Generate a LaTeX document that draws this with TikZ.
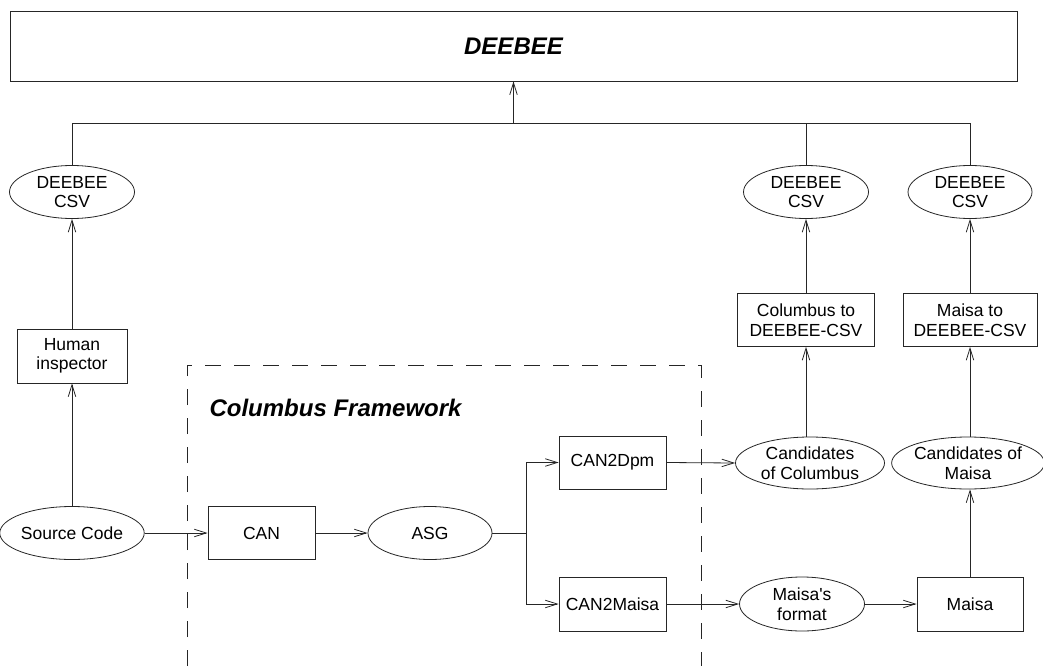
\documentclass[tikz,border=0pt]{standalone}
\usepackage{fontspec}
\setmainfont{Liberation Sans}
\usetikzlibrary{shapes.geometric,arrows.meta}
\begin{document}
\begin{tikzpicture}[x=1pt,y=-1pt,
  base/.style={draw=black!85, line width=0.8pt, inner sep=0pt, align=center,
     font=\fontsize{17.5}{19.5}\selectfont},
  boxnode/.style={base, rectangle},
  ellnode/.style={base, ellipse},
  conn/.style={draw=black!85, line width=0.8pt},
  arr/.style={conn, -{Straight Barb[length=12pt,width=7.5pt,line width=0.8pt]}},
  titletext/.style={font=\fontsize{24}{28}\selectfont\bfseries\itshape}
]
\useasboundingbox (0,0) rectangle (1043,666);
\fill[white] (0,0) rectangle (1043,666);

% nodes
\node[boxnode, minimum width=1007pt, minimum height=70pt, titletext] (deebee) at (513.5,46) {DEEBEE};
\node[ellnode, minimum width=125pt, minimum height=53pt] (csv1) at (72,192) {DEEBEE\\CSV};
\node[ellnode, minimum width=125pt, minimum height=53pt] (csv2) at (806,192) {DEEBEE\\CSV};
\node[ellnode, minimum width=124pt, minimum height=53pt] (csv3) at (970,192) {DEEBEE\\CSV};
\node[boxnode, minimum width=110pt, minimum height=54pt] (human) at (72,356) {Human\\inspector};
\node[boxnode, minimum width=137pt, minimum height=53pt] (colconv) at (806,320) {Columbus to\\DEEBEE-CSV};
\node[boxnode, minimum width=134pt, minimum height=53pt] (maisaconv) at (970,320) {Maisa to\\DEEBEE-CSV};
\node[ellnode, minimum width=125pt, minimum height=53pt] (src) at (72,533) {Source Code};
\node[boxnode, minimum width=107pt, minimum height=53pt] (can) at (261.5,533) {CAN};
\node[ellnode, minimum width=124pt, minimum height=53pt] (asg) at (430,533) {ASG};
\node[boxnode, minimum width=107pt, minimum height=53pt] (can2dpm) at (612.5,462.5) {CAN2Dpm};
\node[boxnode, minimum width=107pt, minimum height=54pt] (can2maisa) at (612.5,604) {CAN2Maisa};
\node[ellnode, minimum width=149pt, minimum height=52pt] (candcol) at (810,463) {Candidates\\of Columbus};
\node[ellnode, minimum width=150pt, minimum height=52pt] (candmaisa) at (968,463) {Candidates of\\Maisa};
\node[ellnode, minimum width=125pt, minimum height=54pt] (maisafmt) at (802,604) {Maisa\textquotesingle s\\format};
\node[boxnode, minimum width=106pt, minimum height=54pt] (maisa) at (970,604) {Maisa};

% framework frame
\draw[black!85, line width=0.8pt, dash pattern=on 16pt off 13pt]
  (187,666) -- (187,365) -- (701,365) -- (701,666);
\node[titletext, anchor=base west] (fw) at (206,416) {Columbus Framework};

% top collector
\coordinate (jl) at (72,123);
\coordinate (jm) at (513.5,123);
\coordinate (jc) at (806,123);
\coordinate (jr) at (970,123);
\draw[conn] (csv1.north) -- (jl) -- (jr) -- (csv3.north);
\draw[conn] (csv2.north) -- (jc);
\draw[arr] (jm) -- (deebee.south);

% vertical flows
\draw[arr] (src.north) -- (human.south);
\draw[arr] (human.north) -- (csv1.south);
\draw[arr] (colconv.north) -- (csv2.south);
\draw[arr] (maisaconv.north) -- (csv3.south);
\draw[arr] (colconv.south |- candcol.north) -- (colconv.south);
\draw[arr] (candmaisa.north -| maisaconv.south) -- (maisaconv.south);
\draw[arr] (maisa.north) -- (maisa.north |- candmaisa.south);

% horizontal flows
\draw[arr] (src.east) -- (can.west);
\draw[arr] (can.east) -- (asg.west);
\coordinate (jt) at (526,462.5);
\coordinate (jb) at (526,604);
\draw[conn] (asg.east) -- (asg.east -| jt);
\draw[conn] (jt) -- (jb);
\draw[arr] (jt) -- (can2dpm.west);
\draw[arr] (jb) -- (can2maisa.west);
\draw[arr] (can2dpm.east) -- (candcol.west);
\draw[arr] (can2maisa.east) -- (maisafmt.west);
\draw[arr] (maisafmt.east) -- (maisa.west);
\end{tikzpicture}
\end{document}
